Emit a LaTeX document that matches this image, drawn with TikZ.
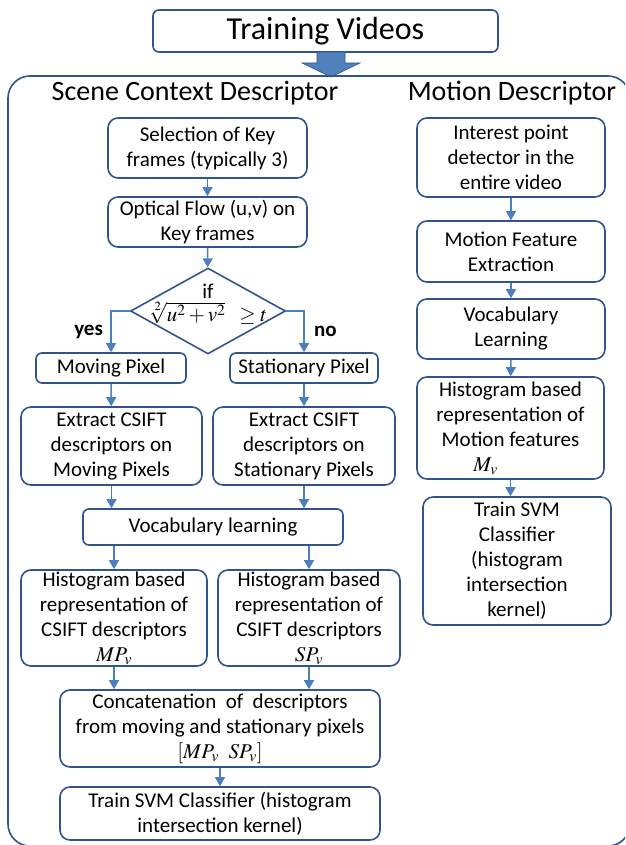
\documentclass[tikz,border=0pt]{standalone}
\usepackage{mathptmx}
\usepackage{fontspec}
\setmainfont{Carlito}
\usetikzlibrary{positioning,shapes.geometric,arrows.meta}

\definecolor{boxblue}{RGB}{50,84,140}
\definecolor{arrowblue}{RGB}{76,126,192}
\definecolor{bigblue}{RGB}{79,129,189}

\tikzset{
	box/.style={rectangle, rounded corners=10pt, draw=boxblue, line width=1.6pt, align=center, inner sep=1pt, font=\fontsize{21}{25}\selectfont},
	smallbox/.style={box, rounded corners=6pt},
	flow/.style={draw=arrowblue, line width=1.5pt, -{Triangle[length=9pt,width=10pt]}},
	title/.style={font=\fontsize{28}{32}\selectfont},
}

\begin{document}
\begin{tikzpicture}[x=1pt, y=-1pt]

		\useasboundingbox (0,0) rectangle (625,845);
		\clip (0,0) rectangle (625,845);

		\node(train)[smallbox, font=\fontsize{32}{36}\selectfont, minimum width=345pt, minimum height=42pt] at (325.5,31) {Training Videos};
		\fill[bigblue, draw=boxblue, line width=0.6pt] (317,52) -- (345,52) -- (345,63) -- (360,63) -- (331,77) -- (302,63) -- (317,63) -- cycle;
		\draw[boxblue, line width=1.6pt, rounded corners=22pt] (8,76) rectangle (630,846);

		\node(scene-title)[title] at (195,93) {Scene Context Descriptor};
		\node(motion-title)[title] at (512,93) {Motion Descriptor};

		% scene context column
		\node(key)[box, minimum width=199pt, minimum height=60pt] at (207.5,148) {Selection of Key\\frames (typically 3)};
		\node(oflow)[box, minimum width=199pt, minimum height=50pt] at (207.5,222) {Optical Flow (u,v) on\\Key frames};
		\node(cond)[diamond, draw=boxblue, line width=1.6pt, inner sep=0pt, minimum width=155pt, minimum height=86pt] at (208,311) {};
		\node(cond-text)[align=center, font=\fontsize{21}{25}\selectfont] at (208,304) {if\\[-2pt]$\sqrt[2]{u^2+v^2}\;\;\geq t$};

		\node(mov-1)[smallbox, minimum width=150pt, minimum height=30pt] at (111,368) {Moving Pixel};
		\node(sta-1)[smallbox, minimum width=148pt, minimum height=30pt] at (304,368) {Stationary Pixel};
		\node(mov-2)[box, minimum width=181pt, minimum height=78pt] at (111.5,446) {Extract CSIFT\\descriptors on\\Moving Pixels};
		\node(sta-2)[box, minimum width=182pt, minimum height=78pt] at (304,446) {Extract CSIFT\\descriptors on\\Stationary Pixels};
		\node(vocab)[smallbox, minimum width=260pt, minimum height=36pt] at (213,527) {Vocabulary learning};
		\node(mov-3)[box, minimum width=186pt, minimum height=96pt] at (114,618) {Histogram based\\representation of\\CSIFT descriptors\\$MP_v$};
		\node(sta-3)[box, minimum width=182pt, minimum height=96pt] at (309,618) {Histogram based\\representation of\\CSIFT descriptors\\$SP_v$};
		\node(concat)[box, minimum width=320pt, minimum height=77pt] at (220,728.5) {Concatenation\ \ of\ \ descriptors\\from moving and stationary pixels\\$[MP_v\ \ SP_v]$};
		\node(svm-1)[box, minimum width=320pt, minimum height=53pt] at (220,813.5) {Train SVM Classifier (histogram\\intersection kernel)};

		% motion column
		\node(mot-1)[box, minimum width=188pt, minimum height=79pt] at (511,157.5) {Interest point\\detector in the\\entire video};
		\node(mot-2)[box, minimum width=188pt, minimum height=61pt] at (511,251.5) {Motion Feature\\Extraction};
		\node(mot-3)[box, minimum width=188pt, minimum height=60pt] at (511,329) {Vocabulary\\Learning};
		\node(mot-4)[box, minimum width=187pt, minimum height=102pt] at (510.5,428) {Histogram based\\representation of\\Motion features\\$M_v$\hspace*{50pt}};
		\node(svm-2)[box, minimum width=188pt, minimum height=128pt] at (517,561) {Train SVM\\Classifier\\(histogram\\intersection\\kernel)};

		\draw[flow] (key) -- (oflow);
		\draw[flow] (oflow) -- (cond);
		\draw[flow] (cond.west) -| node[pos=0.75, left, font=\fontsize{21}{24}\bfseries, xshift=-4pt]{yes} (mov-1.north);
		\draw[flow] (cond.east) -| node[pos=0.75, right, font=\fontsize{21}{24}\bfseries, xshift=6pt]{no} (sta-1.north);
		\draw[flow] (mov-1) -- (mov-2);
		\draw[flow] (sta-1) -- (sta-2);
		\draw[flow] (mov-2.south) -- (mov-2.south |- vocab.north);
		\draw[flow] (sta-2.south) -- (sta-2.south |- vocab.north);
		\draw[flow] (vocab.south -| mov-3) -- (mov-3.north);
		\draw[flow] (vocab.south -| sta-3) -- (sta-3.north);
		\draw[flow] (mov-3.south) -- (mov-3.south |- concat.north);
		\draw[flow] (sta-3.south) -- (sta-3.south |- concat.north);
		\draw[flow] (concat) -- (svm-1);

		\draw[flow] (mot-1) -- (mot-2);
		\draw[flow] (mot-2) -- (mot-3);
		\draw[flow] (mot-3) -- (mot-4);
		\draw[flow] (mot-4.south) -- (mot-4.south |- svm-2.north);
	\end{tikzpicture}
\end{document}
